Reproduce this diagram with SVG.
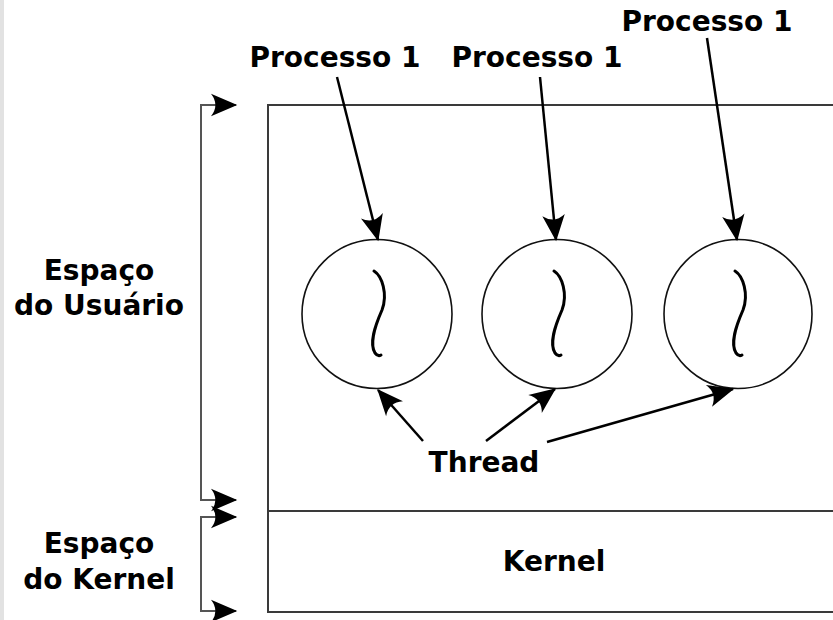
<svg xmlns="http://www.w3.org/2000/svg" width="833" height="620" viewBox="0 0 833 620">
  <defs>
    <style>
      .lbl { font-family: "DejaVu Sans", "Liberation Sans", sans-serif; font-weight: bold; font-size: 28px; fill: #000; }
      .mid { text-anchor: middle; }
      .box { fill: none; stroke: #3a3a3a; stroke-width: 2; }
      .brk { fill: none; stroke: #555; stroke-width: 2; }
      .arr { fill: none; stroke: #000; stroke-width: 2.5; }
      .proc { fill: #fff; stroke: #111; stroke-width: 1.6; }
      .thr { fill: none; stroke: #000; stroke-width: 3; stroke-linecap: round; }
    </style>
    <marker id="head" markerUnits="userSpaceOnUse" markerWidth="30" markerHeight="30" viewBox="-22 -11 24 22" refX="0" refY="0" orient="auto">
      <path d="M1,0 L-20,-9 Q-13,0 -20,9 Z" fill="#000"/>
    </marker>
  </defs>

  <rect width="833" height="620" fill="#fff"/>
  <rect x="0" y="0" width="4" height="620" fill="#e2e2e2"/>

  <!-- user / kernel address space -->
  <g id="address-space">
    <path class="box" d="M840,105 H268 V612 H840"/>
    <line class="box" x1="268" y1="511" x2="840" y2="511"/>
  </g>

  <g id="kernel">
    <text class="lbl mid" x="554" y="571">Kernel</text>
  </g>

  <!-- processes, each holding one thread -->
  <g id="processo-a">
    <ellipse class="proc" cx="377" cy="314" rx="75" ry="74.5"/>
    <path class="thr" d="M374,271 C382,276 388,294 382,310 C375,326 369,343 375,353 Q378,357 381,355"/>
  </g>
  <g id="processo-b">
    <ellipse class="proc" cx="557" cy="314" rx="75" ry="74.5"/>
    <path class="thr" d="M554,271 C562,276 568,294 562,310 C555,326 549,343 555,353 Q558,357 561,355"/>
  </g>
  <g id="processo-c">
    <ellipse class="proc" cx="738" cy="314" rx="74" ry="74.5"/>
    <path class="thr" d="M735,271 C743,276 749,294 743,310 C736,326 730,343 736,353 Q739,357 742,355"/>
  </g>

  <!-- labels -->
  <g id="label-processo-a"><text class="lbl mid" x="335" y="67">Processo 1</text></g>
  <g id="label-processo-b"><text class="lbl mid" x="537" y="67">Processo 1</text></g>
  <g id="label-processo-c"><text class="lbl mid" x="707" y="31">Processo 1</text></g>
  <g id="label-thread"><text class="lbl mid" x="484" y="472">Thread</text></g>
  <g id="label-user">
    <text class="lbl mid" x="99" y="280">Espaço</text>
    <text class="lbl mid" x="99" y="315">do Usuário</text>
  </g>
  <g id="label-kernel-space">
    <text class="lbl mid" x="99" y="553">Espaço</text>
    <text class="lbl mid" x="99" y="589">do Kernel</text>
  </g>

  <g id="connectors">
    <line class="arr" x1="337" y1="77" x2="378" y2="240" marker-end="url(#head)"/>
    <line class="arr" x1="540" y1="77" x2="556" y2="240" marker-end="url(#head)"/>
    <line class="arr" x1="707" y1="38" x2="737" y2="240" marker-end="url(#head)"/>
    <line class="arr" x1="423" y1="441" x2="378" y2="390" marker-end="url(#head)"/>
    <line class="arr" x1="486" y1="441" x2="555" y2="389" marker-end="url(#head)"/>
    <line class="arr" x1="547" y1="442" x2="733" y2="389" marker-end="url(#head)"/>
    <!-- brackets -->
    <path class="brk" d="M236,105 H201 V500 H236" marker-end="url(#head)"/>
    <line class="brk" x1="201" y1="105" x2="236" y2="105" marker-end="url(#head)"/>
    <path class="brk" d="M236,517 H201 V611 H236" marker-end="url(#head)"/>
    <line class="brk" x1="201" y1="517" x2="236" y2="517" marker-end="url(#head)"/>
  </g>
</svg>
